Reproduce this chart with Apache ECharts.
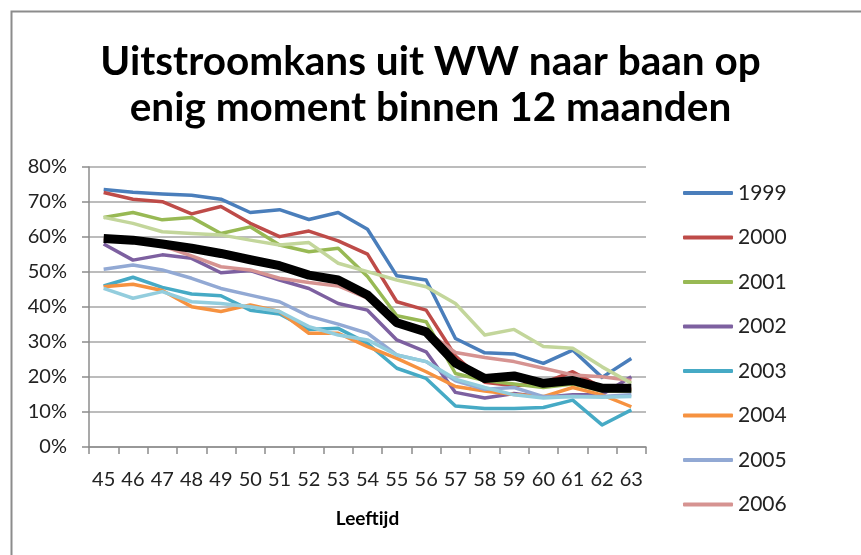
<!DOCTYPE html>
<html lang="nl">
<head>
    <meta charset="UTF-8">
    <title>Uitstroomkans uit WW</title>
    <script src="https://cdn.jsdelivr.net/npm/echarts@6/dist/echarts.min.js"></script>
</head>
<body style="margin:0">
<div id="container" style="width:861px;height:555px;"></div>
<script>
    var leeftijd = ['45', '46', '47', '48', '49', '50', '51', '52', '53', '54', '55', '56', '57', '58', '59', '60', '61', '62', '63'];

    // uitstroomkans in %, per jaar
    var j1999 = [73.6, 72.8, 72.3, 71.9, 70.8, 67.0, 67.8, 65.0, 67.0, 62.2, 48.9, 47.7, 31.0, 26.9, 26.6, 23.9, 27.7, 19.9, 25.3];
    var j2000 = [72.7, 70.8, 70.1, 66.6, 68.7, 63.9, 60.1, 61.7, 58.9, 55.1, 41.5, 39.1, 26.0, 18.5, 17.5, 18.3, 21.5, 17.0, 16.5];
    var j2001 = [65.6, 67.0, 64.9, 65.6, 61.0, 62.9, 57.7, 55.8, 56.8, 48.7, 37.5, 35.8, 21.0, 19.0, 18.0, 17.0, 18.0, 16.0, 16.0];
    var j2002 = [58.0, 53.4, 54.9, 53.9, 49.8, 50.4, 47.7, 45.3, 41.0, 39.1, 30.6, 27.2, 15.6, 14.0, 15.3, 14.2, 14.9, 15.0, 20.1];
    var j2003 = [46.0, 48.5, 45.6, 43.7, 43.2, 39.1, 38.0, 33.6, 33.9, 29.6, 22.5, 19.6, 11.7, 11.0, 11.0, 11.3, 13.4, 6.3, 10.6];
    var j2004 = [45.8, 46.5, 44.7, 40.1, 38.7, 40.6, 38.7, 32.5, 32.5, 28.7, 25.3, 21.5, 17.3, 16.0, 15.0, 14.4, 17.0, 14.9, 11.5];
    var j2005 = [50.8, 52.0, 50.6, 48.2, 45.3, 43.4, 41.5, 37.4, 35.1, 32.5, 26.3, 24.4, 18.9, 16.5, 17.0, 14.4, 14.4, 14.4, 14.9];
    var j2006 = [59.5, 59.0, 57.5, 54.6, 51.5, 50.6, 48.2, 47.0, 46.0, 42.5, 36.0, 33.0, 27.0, 25.6, 24.4, 22.5, 20.6, 20.1, 19.0];
    var j2007 = [65.6, 63.9, 61.5, 61.0, 60.6, 59.1, 57.7, 58.4, 52.5, 50.1, 47.7, 45.8, 41.0, 32.0, 33.6, 28.7, 28.2, 22.9, 18.2];
    var j2008 = [45.3, 42.5, 44.4, 41.5, 41.0, 40.1, 38.7, 34.4, 32.0, 30.6, 26.3, 24.4, 19.4, 17.0, 14.9, 14.0, 14.4, 14.2, 14.4];
    var gemiddeld = [59.6, 59.1, 58.0, 56.8, 55.3, 53.5, 51.8, 49.1, 47.7, 43.4, 35.5, 32.9, 24.0, 19.6, 20.3, 18.2, 19.0, 16.8, 16.8];

    var reeksen = [
        {name: '1999', data: j1999, color: '#4A7EBB'},
        {name: '2000', data: j2000, color: '#BE4B48'},
        {name: '2001', data: j2001, color: '#98B954'},
        {name: '2002', data: j2002, color: '#7D60A0'},
        {name: '2003', data: j2003, color: '#46AAC5'},
        {name: '2004', data: j2004, color: '#F69240'},
        {name: '2005', data: j2005, color: '#92A9D4'},
        {name: '2006', data: j2006, color: '#D69391'},
        {name: '2007', data: j2007, color: '#C3D69B'},
        {name: '2008', data: j2008, color: '#93CDDD'},
        {name: 'Gemiddeld', data: gemiddeld, color: '#000000', width: 9}
    ];
    // legenda toont alleen de eerste acht jaren (rest valt buiten beeld)
    var legendaNamen = ['1999', '2000', '2001', '2002', '2003', '2004', '2005', '2006'];

    var font = 'Lato, "Liberation Sans", sans-serif';
    var myChart = echarts.init(document.getElementById('container'));

    var series = reeksen.map(function (r) {
        return {
            name: r.name,
            type: 'line',
            data: r.data,
            showSymbol: false,
            symbol: 'none',
            animation: false,
            color: r.color,
            lineStyle: {width: r.width || 3.5, color: r.color, join: 'round'}
        };
    });

    myChart.setOption({
        backgroundColor: '#ffffff',
        animation: false,
        title: {
            text: 'Uitstroomkans uit WW naar baan op\nenig moment binnen 12 maanden',
            left: 'center',
            top: 34,
            padding: [5, 0, 5, 30],
            textStyle: {
                fontFamily: font,
                fontSize: 40.5,
                fontWeight: 'bold',
                lineHeight: 46,
                color: '#000'
            }
        },
        graphic: [{
            type: 'rect',
            left: 9,
            top: 9,
            shape: {width: 900, height: 600},
            style: {fill: null, stroke: '#8c8c8c', lineWidth: 2},
            silent: true
        }],
        legend: {
            data: legendaNamen,
            orient: 'vertical',
            left: 683,
            top: 182,
            padding: 0,
            icon: 'roundRect',
            itemWidth: 50,
            itemHeight: 4,
            itemGap: 22.5,
            textStyle: {fontFamily: font, fontSize: 21, lineHeight: 22, color: '#222'}
        },
        grid: {left: 89, right: 215, top: 167, bottom: 108, containLabel: false},
        xAxis: {
            type: 'category',
            data: leeftijd,
            boundaryGap: true,
            name: 'Leeftijd',
            nameLocation: 'middle',
            nameGap: 62,
            nameTextStyle: {fontFamily: font, fontSize: 19, fontWeight: 'bold', color: '#000'},
            axisLine: {lineStyle: {color: '#8c8c8c', width: 1.5}},
            axisTick: {show: true, alignWithLabel: false, length: 7, lineStyle: {color: '#8c8c8c', width: 1.5}},
            axisLabel: {fontFamily: font, fontSize: 20, color: '#222', margin: 23, interval: 0}
        },
        yAxis: {
            type: 'value',
            min: 0,
            max: 80,
            interval: 10,
            axisLine: {show: true, lineStyle: {color: '#8c8c8c', width: 1.5}},
            axisTick: {show: true, length: 7, lineStyle: {color: '#8c8c8c', width: 1.5}},
            axisLabel: {fontFamily: font, fontSize: 20, color: '#222', margin: 22, formatter: '{value}%'},
            splitLine: {lineStyle: {color: '#a6a6a6', width: 1.5}}
        },
        series: series
    });
</script>
</body>
</html>
